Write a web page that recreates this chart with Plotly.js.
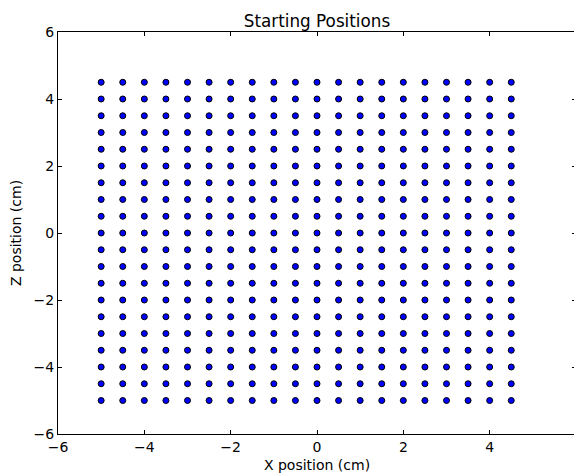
<!DOCTYPE html>
<html>
<head>
<meta charset="utf-8">
<script src="https://cdn.plot.ly/plotly-3.0.1.min.js"></script>
<style>
  html, body { margin: 0; padding: 0; overflow: hidden; background: #fff; }
  #chart { width: 580px; height: 475px; }
</style>
</head>
<body>
<div id="chart"></div>
<script>
// Grid of starting positions (cm)
const xPositions = [-5, -4.5, -4, -3.5, -3, -2.5, -2, -1.5, -1, -0.5, 0, 0.5, 1, 1.5, 2, 2.5, 3, 3.5, 4, 4.5];
const zPositions = [-5, -4.5, -4, -3.5, -3, -2.5, -2, -1.5, -1, -0.5, 0, 0.5, 1, 1.5, 2, 2.5, 3, 3.5, 4, 4.5];
const tickValues = [-6, -4, -2, 0, 2, 4, 6];

const px = [], pz = [];
for (const z of zPositions) {
  for (const x of xPositions) {
    px.push(x);
    pz.push(z);
  }
}

const font = { family: 'DejaVu Sans, sans-serif', size: 14, color: '#000' };

const axisBase = {
  showgrid: false,
  zeroline: false,
  showline: true,
  linecolor: '#000',
  linewidth: 1,
  mirror: 'ticks',
  ticks: 'inside',
  ticklen: 4,
  tickwidth: 1,
  tickcolor: '#000',
  tickvals: tickValues,
  tickfont: font,
  range: [-6, 6],
  fixedrange: true
};

Plotly.newPlot('chart', [{
  type: 'scatter',
  mode: 'markers',
  x: px,
  y: pz,
  marker: { size: 6, color: '#0000ff', line: { color: '#000', width: 1 } },
  hoverinfo: 'skip'
}], {
  width: 580,
  height: 475,
  margin: { l: 58, r: 4, t: 32, b: 41 },
  paper_bgcolor: '#fff',
  plot_bgcolor: '#fff',
  showlegend: false,
  title: {
    text: 'Starting Positions',
    font: { family: 'DejaVu Sans, sans-serif', size: 16.8, color: '#000' },
    xref: 'paper', x: 0.5, xanchor: 'center',
    yref: 'container', y: 1 - 21 / 475, yanchor: 'middle'
  },
  xaxis: Object.assign({}, axisBase, { title: { text: 'X position (cm)', font: font, standoff: 6 } }),
  yaxis: Object.assign({}, axisBase, { title: { text: 'Z position (cm)', font: font, standoff: 8 } })
}, { staticPlot: true });
</script>
</body>
</html>
